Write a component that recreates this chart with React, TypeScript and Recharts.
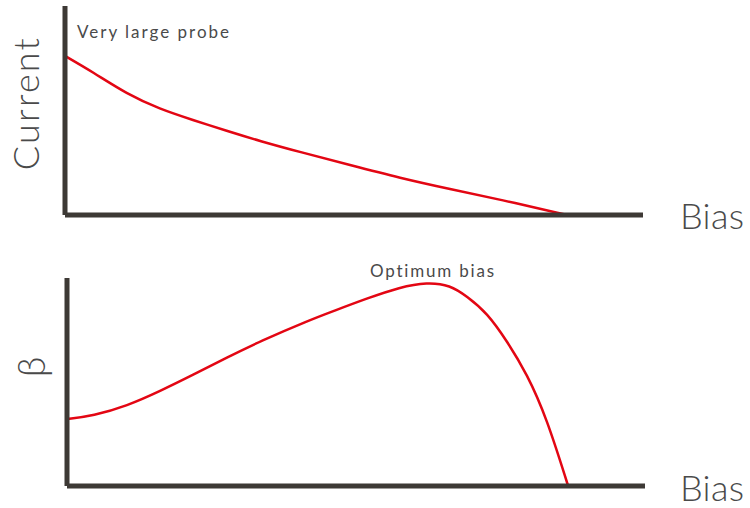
import React from 'react';
import { LineChart, Line, XAxis, YAxis } from 'recharts';

// Top panel: Current vs Bias (very large probe)
const currentBias = [0, 4.8, 10.7, 16.4, 22.1, 28.0, 33.7, 40.7, 49.3, 58.0, 66.6, 75.3, 86.9];
const currentValues = [76.1, 68.4, 57.9, 50.7, 45.5, 40.2, 35.4, 30.1, 23.9, 17.7, 12.4, 7.4, 0];

// Bottom panel: beta vs Bias
const betaBias = [0, 4.5, 10.4, 16.1, 21.8, 27.7, 33.4, 42.0, 46.0, 51.9, 57.6, 62.3, 66.3, 69.2, 72.7, 76.1, 79.6, 83.0, 86.7];
const betaValues = [32.2, 33.7, 38.5, 45.6, 53.4, 61.8, 69.6, 79.8, 84.0, 90.2, 95.6, 98.0, 96.6, 91.2, 83.2, 69.8, 53.8, 32.6, 0];

const topData = currentBias.map((x, i) => ({ x, y: currentValues[i] }));
const bottomData = betaBias.map((x, i) => ({ x, y: betaValues[i] }));

const AXIS = '#3d3935';
const RED = '#e30613';
const TEXT = '#4a4a4a';
const FONT = 'Lato, "Open Sans", sans-serif';

const axisLine = { stroke: AXIS, strokeWidth: 5 };

export default function App() {
  return (
    <div style={{ position: 'absolute', left: 0, top: 0, width: 750, height: 508, background: '#fff', overflow: 'hidden' }}>
      <div style={{ position: 'absolute', left: 0, top: 0 }}>
        <LineChart width={750} height={254} data={topData} margin={{ top: 6, right: 107, bottom: 0, left: 0 }}>
          <XAxis dataKey="x" type="number" domain={[0, 100]} height={39} tick={false} tickLine={false} axisLine={axisLine} />
          <YAxis type="number" domain={[0, 100]} width={65} tick={false} tickLine={false} axisLine={axisLine} />
          <Line dataKey="y" type="basis" stroke={RED} strokeWidth={2.5} dot={false} isAnimationActive={false} />
        </LineChart>
      </div>
      <div style={{ position: 'absolute', left: 0, top: 254 }}>
        <LineChart width={750} height={254} data={bottomData} margin={{ top: 24, right: 105, bottom: 0, left: 0 }}>
          <XAxis dataKey="x" type="number" domain={[0, 100]} height={22} tick={false} tickLine={false} axisLine={axisLine} />
          <YAxis type="number" domain={[0, 100]} width={67} tick={false} tickLine={false} axisLine={axisLine} />
          <Line dataKey="y" type="basis" stroke={RED} strokeWidth={2.5} dot={false} isAnimationActive={false} />
        </LineChart>
      </div>
      <svg width={750} height={508} style={{ position: 'absolute', left: 0, top: 0, pointerEvents: 'none' }} fontFamily={FONT}>
        <text x={77} y={38} fontSize={17} fill={TEXT} letterSpacing={2}>Very large probe</text>
        <text transform="translate(39,103) rotate(-90)" textAnchor="middle" fontSize={36} fontWeight={300} fill={TEXT} letterSpacing={2.2}>Current</text>
        <text x={680} y={229} fontSize={36} fontWeight={300} fill={TEXT} letterSpacing={0.3}>Bias</text>
        <text x={370} y={277} fontSize={17} fill={TEXT} letterSpacing={1.8}>Optimum bias</text>
        <text transform="translate(45,367) rotate(-90)" textAnchor="middle" fontSize={38} fontWeight={300} fill={TEXT}>β</text>
        <text x={680} y={501} fontSize={36} fontWeight={300} fill={TEXT} letterSpacing={0.3}>Bias</text>
      </svg>
    </div>
  );
}
